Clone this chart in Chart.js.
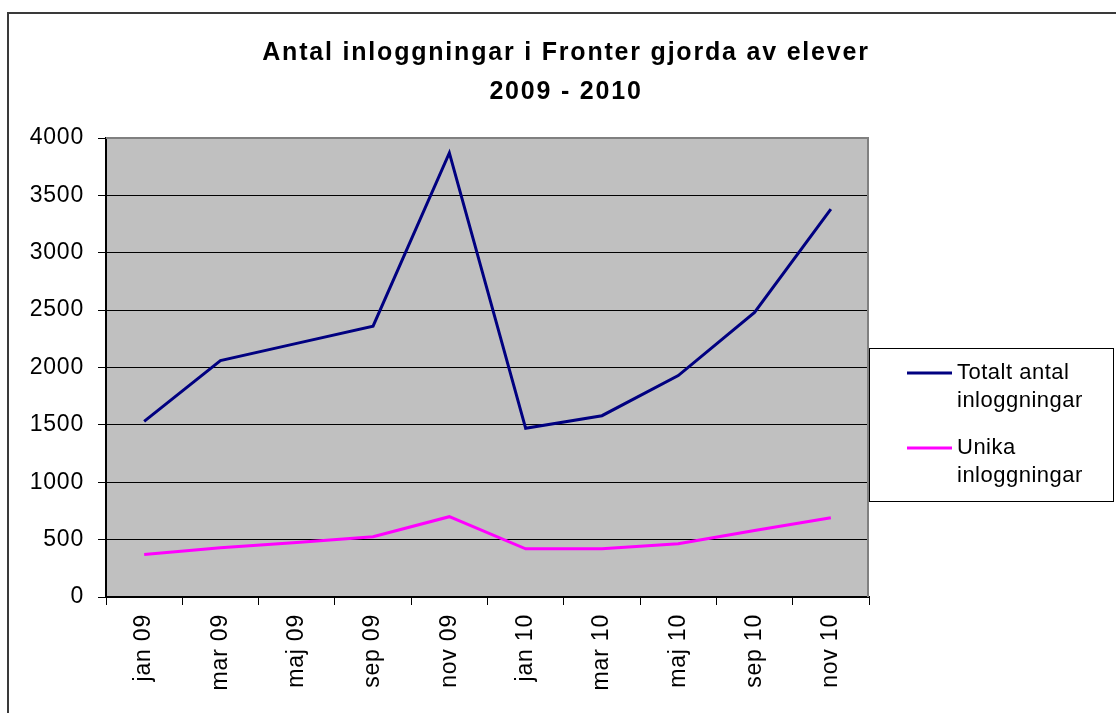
<!DOCTYPE html>
<html>
<head>
<meta charset="utf-8">
<title>Antal inloggningar i Fronter</title>
<script src="https://cdn.jsdelivr.net/npm/chart.js@4/dist/chart.umd.min.js"></script>
<style>
  html, body { margin: 0; padding: 0; background: #fff; }
  canvas { display: block; }
</style>
</head>
<body>
<canvas id="chart" width="1116" height="713"></canvas>
<script>
// --- data ---
const months = ['jan 09', 'mar 09', 'maj 09', 'sep 09', 'nov 09', 'jan 10', 'mar 10', 'maj 10', 'sep 10', 'nov 10'];
const totalLogins = [1530, 2060, 2210, 2360, 3870, 1470, 1580, 1930, 2480, 3380];
const uniqueLogins = [370, 430, 475, 525, 700, 420, 420, 465, 580, 690];
const totalLabel = ['Totalt antal', 'inloggningar'];
const uniqueLabel = ['Unika', 'inloggningar'];
const titleLines = ['Antal inloggningar i Fronter gjorda av elever', '2009 - 2010'];
const yTicks = [0, 500, 1000, 1500, 2000, 2500, 3000, 3500, 4000];

const FONT = "'Liberation Sans', Arial, sans-serif";
Chart.defaults.font.family = FONT;
Chart.defaults.color = '#000';

// spacing: the original text is a bit wider than plain Arial
const spacingPlugin = {
  id: 'spacing',
  beforeLayout(chart) { chart.ctx.letterSpacing = '0.8px'; },
  beforeDraw(chart) { chart.ctx.letterSpacing = '0.8px'; }
};

// grey plot background, outer frame, right/top plot border
const framePlugin = {
  id: 'frame',
  beforeDraw(chart) {
    const { ctx, chartArea: a } = chart;
    ctx.save();
    ctx.fillStyle = '#fff';
    ctx.fillRect(0, 0, chart.width, chart.height);
    ctx.strokeStyle = '#3a3a3a';
    ctx.lineWidth = 2;
    ctx.strokeRect(8, 13, 1300, 900);
    ctx.fillStyle = '#c0c0c0';
    ctx.fillRect(a.left, a.top, a.right - a.left, a.bottom - a.top);
    ctx.restore();
  },
  beforeDatasetsDraw(chart) {
    const { ctx, chartArea: a } = chart;
    ctx.save();
    ctx.strokeStyle = '#808080';
    ctx.lineWidth = 2;
    ctx.beginPath();
    ctx.moveTo(a.left, a.top);
    ctx.lineTo(a.right - 1, a.top);
    ctx.lineTo(a.right - 1, a.bottom);
    ctx.stroke();
    ctx.restore();
  }
};

// title and boxed legend drawn by hand
const textPlugin = {
  id: 'texts',
  afterDraw(chart) {
    const ctx = chart.ctx;
    ctx.save();
    ctx.letterSpacing = '1.8px';
    ctx.fillStyle = '#000';
    ctx.font = 'bold 25px ' + FONT;
    ctx.textAlign = 'center';
    ctx.textBaseline = 'alphabetic';
    ctx.fillText(titleLines[0], 566, 60);
    ctx.fillText(titleLines[1], 566, 99);

    // legend box
    ctx.fillStyle = '#fff';
    ctx.fillRect(869, 348, 245, 154);
    ctx.strokeStyle = '#000';
    ctx.lineWidth = 1;
    ctx.strokeRect(869.5, 348.5, 244, 153);

    ctx.letterSpacing = '0.5px';
    ctx.font = '22px ' + FONT;
    ctx.textAlign = 'left';
    const rows = [[0, 373, 379], [1, 448, 454]];
    rows.forEach(([i, ly, by]) => {
      const ds = chart.data.datasets[i];
      ctx.strokeStyle = ds.borderColor;
      ctx.lineWidth = 3;
      ctx.beginPath();
      ctx.moveTo(907, ly);
      ctx.lineTo(952, ly);
      ctx.stroke();
      ctx.fillStyle = '#000';
      ds.label.forEach((line, k) => ctx.fillText(line, 957, by + k * 28));
    });
    ctx.restore();
  }
};

new Chart(document.getElementById('chart'), {
  type: 'line',
  data: {
    labels: months,
    datasets: [
      { label: totalLabel, data: totalLogins, borderColor: '#000080', backgroundColor: '#000080',
        borderWidth: 3, pointRadius: 0, tension: 0 },
      { label: uniqueLabel, data: uniqueLogins, borderColor: '#ff00ff', backgroundColor: '#ff00ff',
        borderWidth: 3, pointRadius: 0, tension: 0 }
    ]
  },
  options: {
    responsive: false,
    animation: false,
    devicePixelRatio: 1,
    layout: { padding: { left: 0, right: 247, top: 138, bottom: 0 } },
    plugins: {
      legend: { display: false },
      title: { display: false },
      tooltip: { enabled: false }
    },
    scales: {
      x: {
        offset: true,
        grid: { offset: true, drawOnChartArea: false, drawTicks: true, tickLength: 8, color: '#000', lineWidth: 1 },
        border: { display: true, color: '#000', width: 2 },
        ticks: { minRotation: 90, maxRotation: 90, autoSkip: false, padding: 9,
                 font: { size: 23 }, color: '#000' },
        afterFit(scale) { scale.height = 116; }
      },
      y: {
        min: 0,
        max: 4000,
        afterBuildTicks(scale) { scale.ticks = yTicks.map(v => ({ value: v })); },
        grid: {
          color: c => (c.tick && c.tick.value === 4000 ? 'rgba(0,0,0,0)' : '#000'),
          tickColor: '#000',
          lineWidth: 1,
          tickLength: 8
        },
        border: { display: true, color: '#000', width: 2 },
        ticks: { padding: 14, font: { size: 23 }, color: '#000', callback: v => String(v) },
        afterFit(scale) { scale.width = 106; }
      }
    }
  },
  plugins: [spacingPlugin, framePlugin, textPlugin]
});
</script>
</body>
</html>
